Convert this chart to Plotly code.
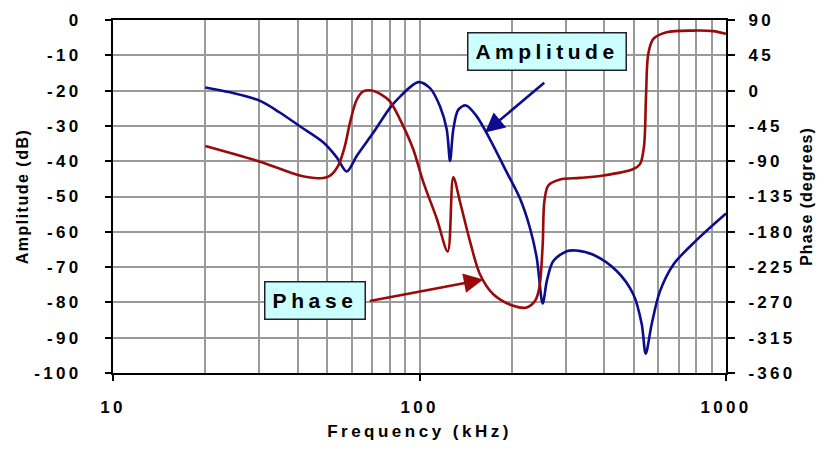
import plotly.graph_objects as go

# ---------------- data ----------------
amp_freq = [20, 24.1, 30.2, 35, 40.7, 48.6, 53.7, 57.9, 62.4, 70.7, 80.1, 86.4, 99.1, 108.2,
            116.7, 122.7, 125.8, 128.9, 133.9, 141.8, 153.7, 169.8, 192.5, 212.8,
            229.4, 241.3, 252.3, 260.6, 273.3, 302.2, 324, 369, 440, 498.4, 530.9,
            547, 572.3, 609, 673, 802.6, 1000]
amp_db = [-19.1, -20.5, -22.9, -26.2, -30.1, -34.7, -38.9, -42.9, -38.5, -31.9, -24.9, -21.7, -17.6, -19.3,
          -24.5, -31.0, -39.9, -31.0, -25.4, -24.2, -27.3, -33.8, -43.1, -50.6,
          -59.0, -67.4, -80.3, -73.7, -68.3, -65.5, -65.3, -66.5, -71.1, -77.7, -86.1,
          -94.5, -86.1, -76.8, -69.3, -62.3, -54.8]

phase_freq = [20, 30.2, 40.7, 47.4, 51.1, 54.3, 57.1, 59.3, 62.4, 65.5, 69.8, 75.3,
              80.1, 88.5, 95.4, 102.9, 113.8, 123.6, 128.9, 135.6, 146.2, 157.6,
              174.1, 202.3, 223.8, 238.3, 246, 252.3, 255.4, 263.2, 287.3, 334,
              397.9, 498.4, 524.2, 540.2, 548.3, 557.8, 579.3, 640.6, 782.4, 908.9, 1000]
phase_deg = [-70.5, -90.6, -108.3, -111.7, -108.3, -95.7, -70.5, -41.1, -11.7, -1.1, 0.1, -5.4,
             -13.7, -45.3, -74.8, -116.7, -163.0, -205.0, -110.4, -142.0, -192.4, -234.4,
             -259.6, -274.3, -276.5, -268.0, -251.2, -196.5, -142.0, -120.9, -113.3, -111.3,
             -108.3, -100.0, -93.7, -70.5, -7.4, 47.1, 66.0, 74.5, 76.5, 75.8, 72.4]

amp_ticks = list(range(-100, 1, 10))
phase_ticks = list(range(-360, 91, 45))
freq_ticks = [10, 100, 1000]
freq_minor = [20, 30, 40, 50, 60, 70, 80, 90, 200, 300, 400, 500, 600, 700, 800, 900]

# ---------------- styling ----------------
FONT = "Liberation Sans, Arial, sans-serif"
BLUE = "#0c0c8f"
RED = "#990a0a"
GRID = "#9a9a9a"


def spaced(t, s):
    return f"<span style='letter-spacing:{s}px'>{t}</span>"


fig = go.Figure()
fig.add_trace(go.Scatter(x=amp_freq, y=amp_db, mode="lines", name="Amplitude",
                         line=dict(color=BLUE, width=2.6, shape="spline", smoothing=0.9),
                         yaxis="y"))
fig.add_trace(go.Scatter(x=phase_freq, y=phase_deg, mode="lines", name="Phase",
                         line=dict(color=RED, width=2.6, shape="spline", smoothing=0.9),
                         yaxis="y2"))

tickfont = dict(family=FONT, size=17, color="black")

# the page body adds an 8px offset, so the figure is 8px smaller on each axis
fig.update_layout(
    width=816, height=443, autosize=False,
    margin=dict(l=105, r=98, t=12, b=78),
    paper_bgcolor="white", plot_bgcolor="white",
    showlegend=False,
    font=dict(family=FONT, color="black"),
    xaxis=dict(
        type="log", range=[1, 3], automargin=False, ticklabeloverflow="allow",
        tickvals=freq_ticks, ticktext=[spaced(f"<b>{v}</b>", 3.3) for v in freq_ticks],
        tickfont=tickfont,
        showgrid=True, gridcolor=GRID, gridwidth=1.6,
        minor=dict(tickvals=freq_minor, showgrid=True, gridcolor=GRID, gridwidth=1.6, ticks=""),
        ticks="outside", ticklen=6, tickwidth=1.5, tickcolor="black",
        showline=True, linecolor="black", linewidth=2, mirror=True,
        ticklabelstandoff=12,
        title=dict(text=spaced("<b>Frequency (kHz)</b>", 3.5),
                   font=dict(family=FONT, size=17, color="black"), standoff=9),
        zeroline=False,
    ),
    yaxis=dict(
        range=[-100, 0], automargin=False, ticklabeloverflow="allow",
        tickvals=amp_ticks, ticktext=[spaced(f"<b>{v}</b>", 3.3) for v in amp_ticks],
        tickfont=tickfont,
        showgrid=True, gridcolor=GRID, gridwidth=1.6,
        ticks="outside", ticklen=6, tickwidth=1.5, tickcolor="black",
        showline=True, linecolor="black", linewidth=2, mirror=True,
        ticklabelstandoff=20,
        title=dict(text=spaced("<b>Amplitude (dB)</b>", 1.5),
                   font=dict(family=FONT, size=16, color="black"), standoff=2),
        zeroline=False,
    ),
    yaxis2=dict(
        range=[-360, 90], overlaying="y", side="right", automargin=False,
        ticklabeloverflow="allow",
        tickvals=phase_ticks, ticktext=[spaced(f"<b>{v}</b>", 3.3) for v in phase_ticks],
        tickfont=tickfont,
        showgrid=False,
        ticks="outside", ticklen=7, tickwidth=1.5, tickcolor="black",
        showline=True, linecolor="black", linewidth=2,
        ticklabelstandoff=10,
        title=dict(text=spaced("<b>Phase (degrees)</b>", 1),
                   font=dict(family=FONT, size=16, color="black"), standoff=6),
        zeroline=False,
    ),
)

box_font = dict(family=FONT, size=21, color="black")
annotations = [
    # label boxes
    dict(x=2.415, y=-9.05, xref="x", yref="y", showarrow=False,
         text=spaced("<b>Amplitude</b>", 4.5), font=box_font,
         bgcolor="#ccffff", bordercolor="#222222", borderwidth=1.5,
         width=153, height=32, borderpad=2),
    dict(x=1.6597, y=-79.6, xref="x", yref="y", showarrow=False,
         text=spaced("<b>Phase</b>", 4.6), font=box_font,
         bgcolor="#ccffff", bordercolor="#222222", borderwidth=1.5,
         width=95, height=32, borderpad=2),
    # arrows
    dict(x=2.2137, y=-31.9, xref="x", yref="y",
         ax=2.4118, ay=-17.45, axref="x", ayref="y",
         text="", showarrow=True, arrowhead=2, arrowsize=1.5, arrowwidth=2.6,
         arrowcolor=BLUE, standoff=0),
    dict(x=2.2082, y=-73.5, xref="x", yref="y",
         ax=1.833, ay=-79.7, axref="x", ayref="y",
         text="", showarrow=True, arrowhead=2, arrowsize=1.5, arrowwidth=2.6,
         arrowcolor=RED, standoff=0),
]
fig.update_layout(annotations=annotations)

fig.write_html("out.html")
